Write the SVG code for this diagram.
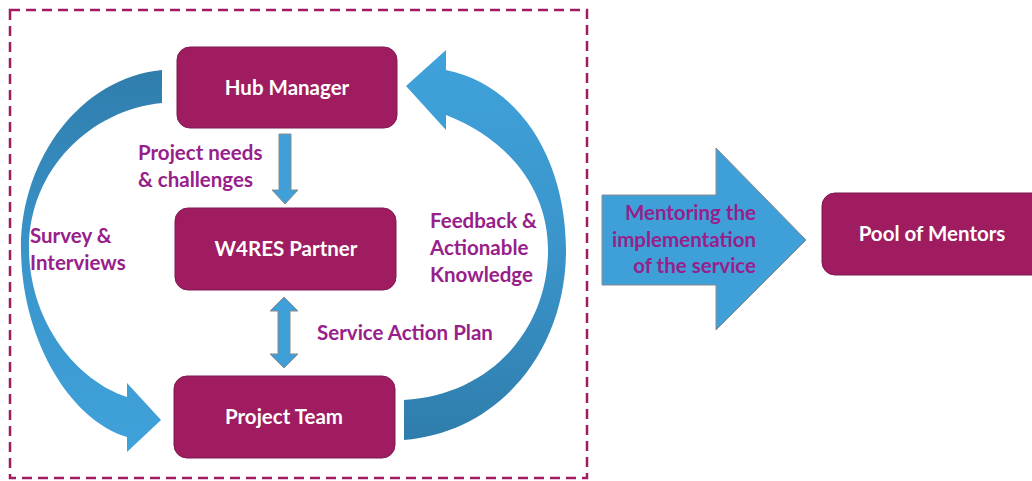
<svg xmlns="http://www.w3.org/2000/svg" width="1032" height="481" viewBox="0 0 1032 481">
<defs>
<linearGradient id="gL" x1="0" y1="0" x2="0" y2="1">
<stop offset="0" stop-color="#2F7DAC"/><stop offset="0.5" stop-color="#3A95CB"/><stop offset="1" stop-color="#40A2DB"/>
</linearGradient>
<linearGradient id="gR" x1="0" y1="0" x2="0" y2="1">
<stop offset="0" stop-color="#40A2DB"/><stop offset="0.5" stop-color="#3A95CB"/><stop offset="1" stop-color="#2F7DAC"/>
</linearGradient>
<style>
.node{fill:#9E1C5F;stroke:#7F1A55;stroke-width:1}
.nt{font-family:Lato,"Open Sans",sans-serif;font-weight:700;font-size:20.5px;fill:#FFFFFF;text-anchor:middle}
.lb{font-family:Lato,"Open Sans",sans-serif;font-weight:700;font-size:20.5px;fill:#98208A}
.sa{fill:#3FA0D9;stroke:#8A8A8A;stroke-width:1}
</style>
</defs>
<rect x="10" y="10" width="577" height="468" fill="none" stroke="#9E1C5F" stroke-width="2.5" stroke-dasharray="10,6"/>
<g id="connectors">
<path d="M 162 70 C 80 78 20 160 21 250 C 22 340 70 420 127 437 L 127 452 L 161 420 L 127 383 L 127 397 C 75 380 29 320 29 248 C 29 170 90 110 162 103 Z" fill="url(#gL)"/>
<path d="M 404 400 C 490 395 548 330 548 250 C 548 190 510 140 446 115 L 446 130 L 406 86 L 446 50 L 446 70 C 520 85 566 160 566 250 C 566 350 500 432 404 440 Z" fill="url(#gR)"/>
<path class="sa" d="M 279 134 L 291 134 L 291 190 L 298 190 L 285 204 L 272 190 L 279 190 Z"/>
<path class="sa" d="M 284 297 L 298 311 L 290 311 L 290 354 L 298 354 L 284 368 L 270 354 L 278 354 L 278 311 L 270 311 Z"/>
<path class="sa" d="M 602 195 L 716 195 L 716 148 L 806 240 L 716 330 L 716 285 L 602 285 Z"/>
</g>
<g id="hub-manager">
<rect class="node" x="177" y="47" width="220" height="81" rx="13"/>
<text class="nt" x="287" y="95">Hub Manager</text>
</g>
<g id="w4res-partner">
<rect class="node" x="175" y="208" width="221" height="82" rx="13"/>
<text class="nt" x="286" y="256">W4RES Partner</text>
</g>
<g id="project-team">
<rect class="node" x="174" y="376" width="221" height="82" rx="13"/>
<text class="nt" x="284" y="424">Project Team</text>
</g>
<g id="pool-of-mentors">
<rect class="node" x="822" y="193" width="225" height="82" rx="13"/>
<text class="nt" x="932" y="241">Pool of Mentors</text>
</g>
<g id="labels">
<text class="lb" x="138" y="160">Project needs</text>
<text class="lb" x="138" y="187">&amp; challenges</text>
<text class="lb" x="30" y="243">Survey &amp;</text>
<text class="lb" x="30" y="270">Interviews</text>
<text class="lb" x="430" y="228">Feedback &amp;</text>
<text class="lb" x="430" y="255">Actionable</text>
<text class="lb" x="430" y="282">Knowledge</text>
<text class="lb" x="317" y="340">Service Action Plan</text>
<text class="lb" x="756" y="220" text-anchor="end">Mentoring the</text>
<text class="lb" x="756" y="247" text-anchor="end">implementation</text>
<text class="lb" x="756" y="273" text-anchor="end">of the service</text>
</g>
</svg>
